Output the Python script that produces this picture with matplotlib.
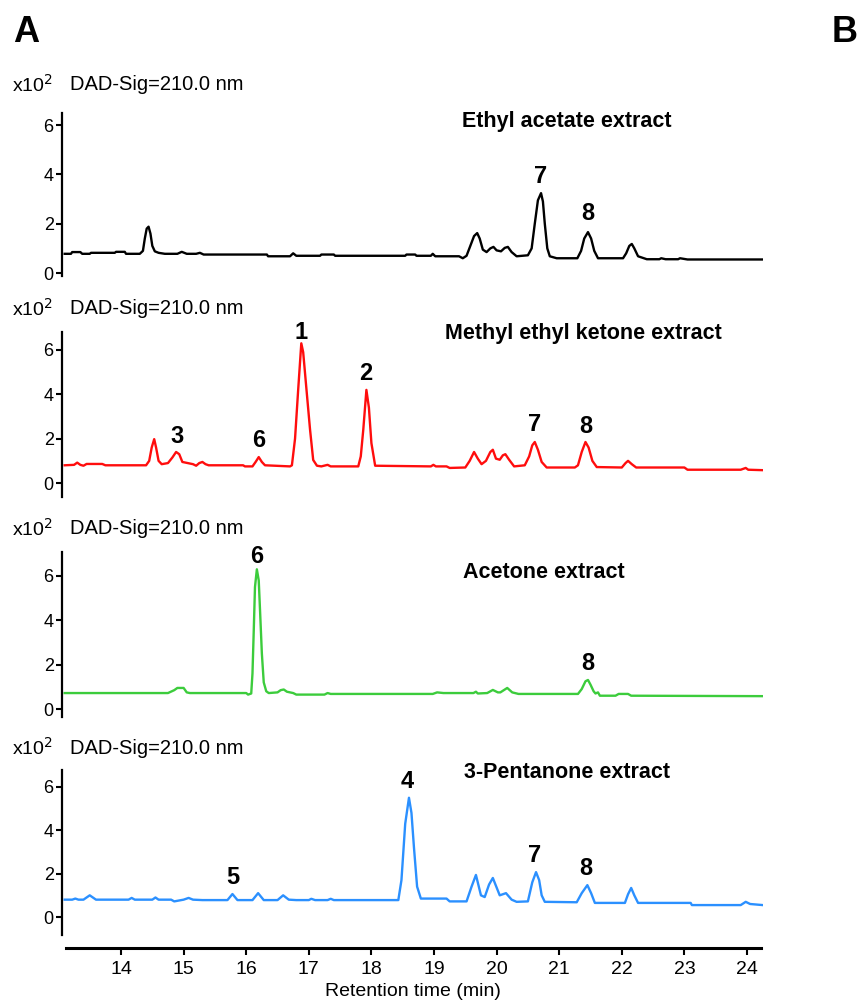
import matplotlib
matplotlib.use("Agg")
import matplotlib.pyplot as plt

plt.rcParams["font.family"] = ["Liberation Sans", "DejaVu Sans"]

# chromatogram vertices (retention time in min, signal in x10^2)
ethyl_t = [13.1, 13.2, 13.22, 13.35, 13.38, 13.5, 13.52, 13.9, 13.92, 14.06, 14.08, 14.3, 14.35, 14.38, 14.41,
           14.44, 14.47, 14.5, 14.54, 14.6, 14.7, 14.9, 14.97, 15.05, 15.2, 15.26, 15.32, 16.33, 16.35, 16.7,
           16.75, 16.8, 17.18, 17.2, 17.4, 17.42, 18.54, 18.56, 18.7, 18.72, 18.95, 18.98, 19.02, 19.4, 19.46,
           19.52, 19.58, 19.64, 19.69, 19.73, 19.78, 19.84, 19.9, 19.95, 20.0, 20.07, 20.13, 20.18, 20.24, 20.32,
           20.5, 20.56, 20.61, 20.66, 20.71, 20.74, 20.77, 20.81, 20.85, 20.96, 21.29, 21.35, 21.4, 21.46, 21.51,
           21.56, 21.62, 22.02, 22.07, 22.12, 22.16, 22.2, 22.26, 22.4, 22.6, 22.63, 22.7, 22.9, 22.93, 23.05,
           24.25]
ethyl_v = [0.78, 0.78, 0.85, 0.85, 0.78, 0.78, 0.82, 0.82, 0.86, 0.86, 0.78, 0.78, 0.9, 1.4, 1.8,
           1.88, 1.6, 1.1, 0.88, 0.82, 0.78, 0.78, 0.86, 0.78, 0.78, 0.82, 0.75, 0.75, 0.68, 0.68,
           0.8, 0.7, 0.7, 0.75, 0.75, 0.7, 0.7, 0.75, 0.75, 0.7, 0.7, 0.78, 0.68, 0.68, 0.6,
           0.7, 1.1, 1.5, 1.62, 1.4, 0.95, 0.85, 1.0, 1.06, 0.92, 0.88, 1.02, 1.06, 0.85, 0.68,
           0.72, 1.0, 2.0, 2.95, 3.24, 2.9, 2.0, 1.0, 0.68, 0.6, 0.6, 0.9, 1.4, 1.66, 1.4,
           0.9, 0.6, 0.6, 0.8, 1.1, 1.18, 1.0, 0.68, 0.56, 0.56, 0.6, 0.56, 0.56, 0.6, 0.55,
           0.55]

mek_t = [13.1, 13.25, 13.3, 13.35, 13.4, 13.45, 13.7, 13.75, 14.4, 14.45, 14.49, 14.53, 14.56, 14.6, 14.65,
         14.75, 14.82, 14.88, 14.93, 14.98, 15.15, 15.2, 15.25, 15.3, 15.35, 15.4, 15.95, 15.98, 16.1, 16.15,
         16.2, 16.25, 16.3, 16.7, 16.73, 16.78, 16.83, 16.88, 16.91, 16.96, 17.02, 17.07, 17.13, 17.2, 17.3,
         17.35, 17.79, 17.83, 17.87, 17.92, 17.96, 18.0, 18.06, 18.95, 18.99, 19.03, 19.2, 19.25, 19.5, 19.57,
         19.64, 19.7, 19.76, 19.83, 19.9, 19.94, 19.99, 20.05, 20.1, 20.14, 20.2, 20.28, 20.45, 20.52, 20.57,
         20.61, 20.66, 20.72, 20.8, 21.25, 21.3, 21.36, 21.42, 21.47, 21.53, 21.6, 22.0, 22.06, 22.1, 22.16,
         22.23, 23.0, 23.05, 23.9, 23.98, 24.02, 24.25]
mek_v = [0.8, 0.82, 0.92, 0.82, 0.78, 0.86, 0.86, 0.8, 0.8, 1.0, 1.6, 1.98, 1.6, 1.0, 0.85,
         0.9, 1.15, 1.4, 1.3, 0.95, 0.85, 0.78, 0.9, 0.95, 0.85, 0.8, 0.8, 0.75, 0.75, 0.95,
         1.17, 0.95, 0.8, 0.75, 0.8, 2.0, 4.2, 6.3, 5.9, 4.3, 2.4, 1.04, 0.78, 0.75, 0.82,
         0.75, 0.75, 1.2, 2.4, 4.2, 3.4, 1.8, 0.78, 0.75, 0.82, 0.75, 0.75, 0.68, 0.7, 1.0,
         1.4, 1.1, 0.85, 1.0, 1.4, 1.5, 1.1, 1.05, 1.25, 1.3, 1.05, 0.75, 0.8, 1.2, 1.7,
         1.85, 1.5, 0.95, 0.7, 0.7, 0.8, 1.4, 1.85, 1.6, 1.0, 0.72, 0.7, 0.9, 1.0, 0.85,
         0.7, 0.7, 0.6, 0.6, 0.68, 0.6, 0.58]

acetone_t = [13.1, 14.75, 14.85, 14.9, 15.0, 15.05, 15.1, 16.0, 16.03, 16.08, 16.1, 16.12, 16.14, 16.17, 16.2,
             16.22, 16.25, 16.28, 16.32, 16.36, 16.5, 16.55, 16.6, 16.65, 16.75, 16.8, 17.25, 17.3, 17.35, 18.98,
             19.05, 19.15, 19.63, 19.67, 19.7, 19.85, 19.94, 20.02, 20.06, 20.17, 20.25, 20.35, 21.3, 21.36, 21.42,
             21.46, 21.5, 21.55, 21.58, 21.62, 21.65, 21.9, 21.95, 22.1, 22.15, 24.25]
acetone_v = [0.72, 0.72, 0.85, 0.95, 0.95, 0.75, 0.72, 0.72, 0.65, 0.7, 1.6, 3.5, 5.5, 6.3, 5.8,
             4.5, 2.5, 1.2, 0.8, 0.72, 0.75, 0.85, 0.88, 0.78, 0.72, 0.65, 0.65, 0.72, 0.68, 0.68,
             0.75, 0.72, 0.72, 0.78, 0.7, 0.72, 0.86, 0.75, 0.75, 0.95, 0.75, 0.68, 0.68, 0.9, 1.25,
             1.31, 1.1, 0.8, 0.7, 0.75, 0.6, 0.6, 0.68, 0.68, 0.6, 0.58]

pent_t = [13.1, 13.22, 13.27, 13.32, 13.4, 13.5, 13.6, 14.12, 14.17, 14.22, 14.5, 14.55, 14.6, 14.8, 14.85,
          15.0, 15.08, 15.15, 15.3, 15.7, 15.78, 15.86, 16.1, 16.19, 16.28, 16.5, 16.59, 16.68, 16.8, 17.0,
          17.04, 17.1, 17.3, 17.35, 17.4, 18.43, 18.48, 18.54, 18.6, 18.64, 18.68, 18.73, 18.79, 18.9, 18.97,
          19.2, 19.25, 19.52, 19.6, 19.67, 19.75, 19.81, 19.88, 19.94, 20.05, 20.15, 20.24, 20.32, 20.5, 20.57,
          20.63, 20.68, 20.72, 20.77, 21.28, 21.36, 21.45, 21.51, 21.57, 22.05, 22.1, 22.15, 22.2, 22.26, 23.1,
          23.12, 23.9, 23.98, 24.05, 24.25]
pent_v = [0.8, 0.8, 0.85, 0.8, 0.8, 1.0, 0.8, 0.8, 0.88, 0.8, 0.8, 0.9, 0.8, 0.8, 0.72,
          0.8, 0.88, 0.8, 0.78, 0.78, 1.06, 0.78, 0.78, 1.1, 0.78, 0.78, 1.0, 0.8, 0.78, 0.78,
          0.84, 0.78, 0.78, 0.84, 0.78, 0.78, 1.7, 4.3, 5.5, 4.8, 3.2, 1.4, 0.85, 0.85, 0.85,
          0.85, 0.72, 0.72, 1.4, 1.94, 1.0, 0.92, 1.5, 1.8, 1.0, 1.1, 0.8, 0.7, 0.72, 1.6,
          2.07, 1.7, 1.0, 0.7, 0.68, 1.1, 1.47, 1.1, 0.65, 0.65, 1.05, 1.34, 1.0, 0.65, 0.65,
          0.55, 0.55, 0.7, 0.6, 0.55]

titles = ["Ethyl acetate extract", "Methyl ethyl ketone extract", "Acetone extract", "3-Pentanone extract"]
colors = ["black", "#ff0d0d", "#3ccc3c", "#2b90ff"]

# peak labels: (number, retention time, label height)
peak_labels = [
    [("7", 20.71, 3.9), ("8", 21.46, 2.43)],
    [("3", 14.89, 2.12), ("6", 16.2, 1.94), ("1", 16.88, 6.8), ("2", 17.91, 4.92), ("7", 20.6, 2.62), ("8", 21.43, 2.57)],
    [("6", 16.17, 6.86), ("8", 21.46, 2.07)],
    [("5", 15.78, 1.8), ("4", 18.57, 6.23), ("7", 20.6, 2.85), ("8", 21.43, 2.22)],
]
yticks = [0, 2, 4, 6]
xticks = [14, 15, 16, 17, 18, 19, 20, 21, 22, 23, 24]

W, H = 859, 1006
fig = plt.figure(figsize=(W / 100, H / 100), dpi=100)

# panel layout in pixels: spine top, spine bottom, ylim
panels = [(113, 276, (-0.12, 6.49)), (332, 497, (-0.63, 6.81)),
          (552, 717, (-0.36, 7.08)), (770, 935, (-0.83, 6.78))]
title_pos = [(567, 122), (583, 333), (544, 572), (567, 772)]
sig_y = [85, 309, 529, 748]
xlo, xhi = 13.057, 24.256
left_px, right_px = 62, 763

traces = [(ethyl_t, ethyl_v), (mek_t, mek_v), (acetone_t, acetone_v), (pent_t, pent_v)]

for i, (top, bot, ylim) in enumerate(panels):
    ax = fig.add_axes([left_px / W, 1 - bot / H, (right_px - left_px) / W, (bot - top) / H])
    t, v = traces[i]
    ax.plot(t, v, color=colors[i], lw=1.7)
    ax.set_xlim(xlo, xhi)
    ax.set_ylim(*ylim)
    for s in ["top", "right", "bottom"]:
        ax.spines[s].set_visible(False)
    ax.spines["left"].set_linewidth(1.6)
    ax.set_xticks([])
    ax.set_yticks(yticks)
    ax.tick_params(axis="y", direction="out", length=4, width=1.5, labelsize=13, pad=2)
    ax.patch.set_alpha(0)
    for lab, tt, hh in peak_labels[i]:
        ax.text(tt, hh, lab, ha="center", va="center", fontsize=17, fontweight="bold", clip_on=False)
    fig.text(title_pos[i][0] / W, 1 - title_pos[i][1] / H, titles[i], ha="center", va="center",
             fontsize=15.5, fontweight="bold")
    fig.text(12 / W, 1 - sig_y[i] / H, r"x10$^2$", ha="left", va="center", fontsize=14)
    fig.text(70 / W, 1 - sig_y[i] / H, "DAD-Sig=210.0 nm", ha="left", va="center", fontsize=14.5)

# shared retention time axis
axx = fig.add_axes([left_px / W, 1 - 948 / H, (right_px - left_px) / W, 0.001])
axx.set_xlim(xlo, xhi)
axx.set_yticks([])
for s in ["top", "right", "left"]:
    axx.spines[s].set_visible(False)
axx.spines["bottom"].set_linewidth(2.2)
axx.spines["bottom"].set_bounds(13.12, 24.22)
axx.set_xticks(xticks)
axx.tick_params(axis="x", direction="out", length=5, width=1.5, labelsize=14, pad=4)
axx.patch.set_alpha(0)
axx.set_xlabel("Retention time (min)", fontsize=14, labelpad=4)

fig.text(26 / W, 1 - 33 / H, "A", ha="center", va="center", fontsize=26, fontweight="bold")
fig.text(845 / W, 1 - 33 / H, "B", ha="center", va="center", fontsize=26, fontweight="bold")

fig.savefig("out.png", dpi=100)
